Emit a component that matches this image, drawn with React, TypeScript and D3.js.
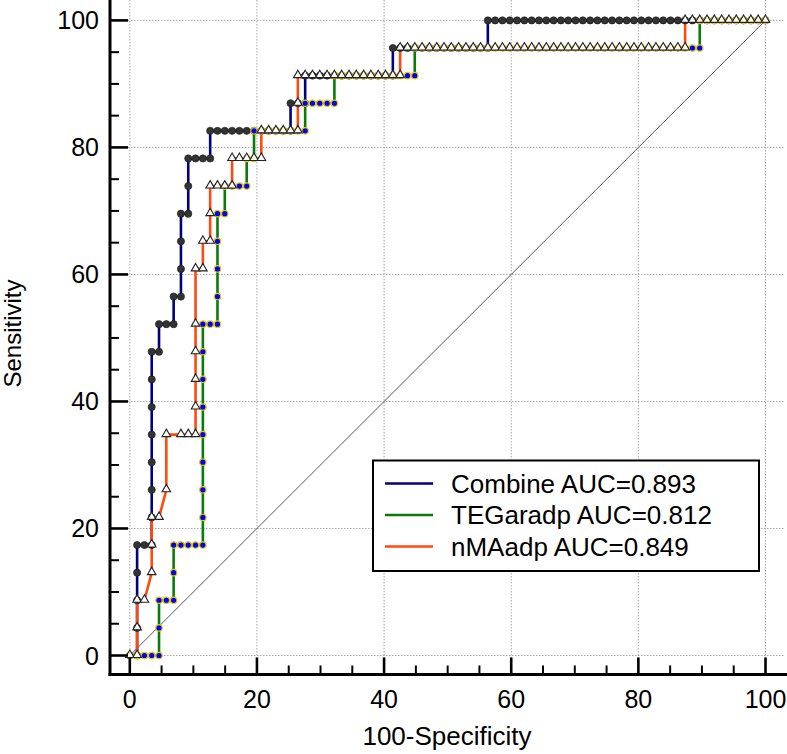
import React from "react";
import * as d3 from "d3";

const W = 787;
const H = 754;

// ROC points as [false positives, true positives] counts (87 negatives, 23 positives)
const N_NEG = 87;
const N_POS = 23;

const xTicks = [0, 20, 40, 60, 80, 100];
const yTicks = [0, 20, 40, 60, 80, 100];
const minorTicks = [5, 10, 15, 25, 30, 35, 45, 50, 55, 65, 70, 75, 85, 90, 95];

const legendLabels = ["Combine AUC=0.893", "TEGaradp AUC=0.812", "nMAadp AUC=0.849"];

const combinePts: [number, number][] = [
  [0, 0], [1, 0], [1, 1], [1, 2], [1, 3], [1, 4], [2, 4], [3, 4], [3, 5], [3, 6], [3, 7], [3, 8], [3, 9], [3, 10], [3, 11],
  [4, 11], [4, 12], [5, 12], [6, 12], [6, 13], [7, 13], [7, 14], [7, 15], [7, 16], [8, 16], [8, 17], [8, 18], [9, 18], [10, 18],
  [11, 18], [11, 19], [12, 19], [13, 19], [14, 19], [15, 19], [16, 19], [17, 19], [18, 19], [19, 19], [20, 19], [21, 19], [22, 19],
  [22, 20], [23, 20], [24, 20], [24, 21], [25, 21], [26, 21], [27, 21], [28, 21], [29, 21], [30, 21], [31, 21], [32, 21], [33, 21],
  [34, 21], [35, 21], [36, 21], [36, 22], [37, 22], [38, 22], [39, 22], [40, 22], [41, 22], [42, 22], [43, 22], [44, 22], [45, 22],
  [46, 22], [47, 22], [48, 22], [49, 22], [49, 23], [50, 23], [51, 23], [52, 23], [53, 23], [54, 23], [55, 23], [56, 23], [57, 23],
  [58, 23], [59, 23], [60, 23], [61, 23], [62, 23], [63, 23], [64, 23], [65, 23], [66, 23], [67, 23], [68, 23], [69, 23], [70, 23],
  [71, 23], [72, 23], [73, 23], [74, 23], [75, 23], [76, 23], [77, 23], [78, 23], [79, 23], [80, 23], [81, 23], [82, 23], [83, 23],
  [84, 23], [85, 23], [86, 23], [87, 23],
];

const tegPts: [number, number][] = [
  [0, 0], [1, 0], [2, 0], [3, 0], [4, 0], [4, 1], [4, 2], [5, 2], [6, 2], [6, 3], [6, 4], [7, 4], [8, 4], [9, 4], [10, 4],
  [10, 5], [10, 6], [10, 7], [10, 8], [10, 9], [10, 10], [10, 11], [10, 12], [11, 12], [12, 12], [12, 13], [12, 14], [12, 15],
  [12, 16], [13, 16], [13, 17], [14, 17], [15, 17], [16, 17], [16, 18], [17, 18], [17, 19], [18, 19], [19, 19], [20, 19], [21, 19],
  [22, 19], [23, 19], [24, 19], [24, 20], [25, 20], [26, 20], [27, 20], [28, 20], [28, 21], [29, 21], [30, 21], [31, 21], [32, 21],
  [33, 21], [34, 21], [35, 21], [36, 21], [37, 21], [38, 21], [39, 21], [39, 22], [40, 22], [41, 22], [42, 22], [43, 22], [44, 22],
  [45, 22], [46, 22], [47, 22], [48, 22], [49, 22], [50, 22], [51, 22], [52, 22], [53, 22], [54, 22], [55, 22], [56, 22], [57, 22],
  [58, 22], [59, 22], [60, 22], [61, 22], [62, 22], [63, 22], [64, 22], [65, 22], [66, 22], [67, 22], [68, 22], [69, 22], [70, 22],
  [71, 22], [72, 22], [73, 22], [74, 22], [75, 22], [76, 22], [77, 22], [78, 22], [78, 23], [79, 23], [80, 23], [81, 23], [82, 23],
  [83, 23], [84, 23], [85, 23], [86, 23], [87, 23],
];

const nmaPts: [number, number][] = [
  [0, 0], [1, 0], [1, 1], [1, 2], [2, 2], [3, 3], [3, 4], [3, 5], [4, 5], [5, 6], [5, 8], [7, 8], [8, 8], [9, 8], [9, 9],
  [9, 10], [9, 11], [9, 12], [9, 14], [10, 14], [10, 15], [11, 15], [11, 16], [11, 17], [12, 17], [13, 17], [14, 17], [14, 18],
  [15, 18], [16, 18], [17, 18], [18, 18], [18, 19], [19, 19], [20, 19], [21, 19], [22, 19], [23, 19], [23, 20], [23, 21], [24, 21],
  [25, 21], [26, 21], [27, 21], [28, 21], [29, 21], [30, 21], [31, 21], [32, 21], [33, 21], [34, 21], [35, 21], [36, 21], [37, 21],
  [37, 22], [38, 22], [39, 22], [40, 22], [41, 22], [42, 22], [43, 22], [44, 22], [45, 22], [46, 22], [47, 22], [48, 22], [49, 22],
  [50, 22], [51, 22], [52, 22], [53, 22], [54, 22], [55, 22], [56, 22], [57, 22], [58, 22], [59, 22], [60, 22], [61, 22], [62, 22],
  [63, 22], [64, 22], [65, 22], [66, 22], [67, 22], [68, 22], [69, 22], [70, 22], [71, 22], [72, 22], [73, 22], [74, 22], [75, 22],
  [76, 22], [76, 23], [77, 23], [78, 23], [79, 23], [80, 23], [81, 23], [82, 23], [83, 23], [84, 23], [85, 23], [86, 23], [87, 23],
];

const FONT = "'Liberation Sans', Arial, Helvetica, sans-serif";

const COLORS = { combine: "#000080", teg: "#0a7a0a", nma: "#ff4a0f" };

export default function App() {
  const x = d3.scaleLinear().domain([0, 100]).range([129.8, 765.5]);
  const y = d3.scaleLinear().domain([0, 100]).range([655.5, 20.4]);
  const fx = d3.scaleLinear().domain([0, N_NEG]).range([0, 100]);
  const fy = d3.scaleLinear().domain([0, N_POS]).range([0, 100]);

  const px = (p: [number, number]) => x(fx(p[0]));
  const py = (p: [number, number]) => y(fy(p[1]));

  const line = d3.line<[number, number]>().x(px).y(py);
  const tri = d3.symbol().type(d3.symbolTriangle).size(32)();

  const axisL = 110;
  const axisB = 674.5;
  const right = 785;

  return (
    <svg
      width={W}
      height={H}
      style={{ position: "absolute", left: 0, top: 0, background: "#fff" }}
      fontFamily={FONT}
    >
      <rect x={0} y={0} width={W} height={H} fill="#fff" />
      {/* grid */}
      {xTicks.map((t) => (
        <line key={"gx" + t} x1={x(t)} x2={x(t)} y1={0} y2={axisB} stroke="#a8a8a8" strokeWidth={1} strokeDasharray="1.5,1.5" />
      ))}
      {yTicks.map((t) => (
        <line key={"gy" + t} x1={axisL} x2={right} y1={y(t)} y2={y(t)} stroke="#a8a8a8" strokeWidth={1} strokeDasharray="1.5,1.5" />
      ))}
      {/* reference diagonal */}
      <line x1={x(0)} y1={y(0)} x2={x(100)} y2={y(100)} stroke="#555" strokeWidth={1} />

      {/* curves */}
      <path d={line(combinePts) || ""} fill="none" stroke={COLORS.combine} strokeWidth={2.6} />
      <path d={line(tegPts) || ""} fill="none" stroke={COLORS.teg} strokeWidth={2.6} />
      <path d={line(nmaPts) || ""} fill="none" stroke={COLORS.nma} strokeWidth={2.6} />

      {/* markers */}
      {combinePts.map((p, i) => (
        <circle key={"c" + i} cx={px(p)} cy={py(p)} r={3.6} fill="#333" stroke="#1a1a1a" strokeWidth={0.6} />
      ))}
      {tegPts.map((p, i) => (
        <circle key={"t" + i} cx={px(p)} cy={py(p)} r={3.2} fill="#0000ff" stroke="#e8c800" strokeWidth={1.2} />
      ))}
      {nmaPts.map((p, i) => (
        <path key={"n" + i} d={tri || ""} transform={`translate(${px(p)},${py(p) - 0.5})`} fill="#fff" stroke="#222" strokeWidth={1.1} />
      ))}

      {/* axes */}
      <line x1={axisL} x2={axisL} y1={0} y2={axisB + 1.5} stroke="#000" strokeWidth={3} />
      <line x1={axisL - 1.5} x2={W} y1={axisB} y2={axisB} stroke="#000" strokeWidth={3} />
      {yTicks.map((t) => (
        <g key={"yt" + t}>
          <line x1={axisL} x2={axisL + 18} y1={y(t)} y2={y(t)} stroke="#000" strokeWidth={2.6} />
          <text x={99} y={y(t)} dy="0.36em" textAnchor="end" fontSize={25} fill="#000">
            {t}
          </text>
        </g>
      ))}
      {minorTicks.map((t) => (
        <line key={"ym" + t} x1={axisL} x2={axisL + 9} y1={y(t)} y2={y(t)} stroke="#000" strokeWidth={2} />
      ))}
      {xTicks.map((t) => (
        <g key={"xt" + t}>
          <line x1={x(t)} x2={x(t)} y1={axisB} y2={axisB - 17} stroke="#000" strokeWidth={2.6} />
          <text x={x(t)} y={708} textAnchor="middle" fontSize={25} fill="#000">
            {t}
          </text>
        </g>
      ))}
      {minorTicks.map((t) => (
        <line key={"xm" + t} x1={x(t)} x2={x(t)} y1={axisB} y2={axisB - 9} stroke="#000" strokeWidth={2} />
      ))}

      {/* axis titles */}
      <text x={447} y={745} textAnchor="middle" fontSize={26} fill="#000">
        100-Specificity
      </text>
      <text transform="translate(21,333.5) rotate(-90)" textAnchor="middle" fontSize={24} fill="#000">
        Sensitivity
      </text>

      {/* legend */}
      <rect x={373} y={460.5} width={386} height={110.5} fill="#fff" stroke="#000" strokeWidth={2} />
      {legendLabels.map((lab, i) => {
        const ly = 483.5 + i * 31.5;
        const col = [COLORS.combine, COLORS.teg, COLORS.nma][i];
        return (
          <g key={lab}>
            <line x1={385} x2={433} y1={ly} y2={ly} stroke={col} strokeWidth={2.6} />
            <text x={451} y={ly + 9} fontSize={26} fill="#000">
              {lab}
            </text>
          </g>
        );
      })}
    </svg>
  );
}
